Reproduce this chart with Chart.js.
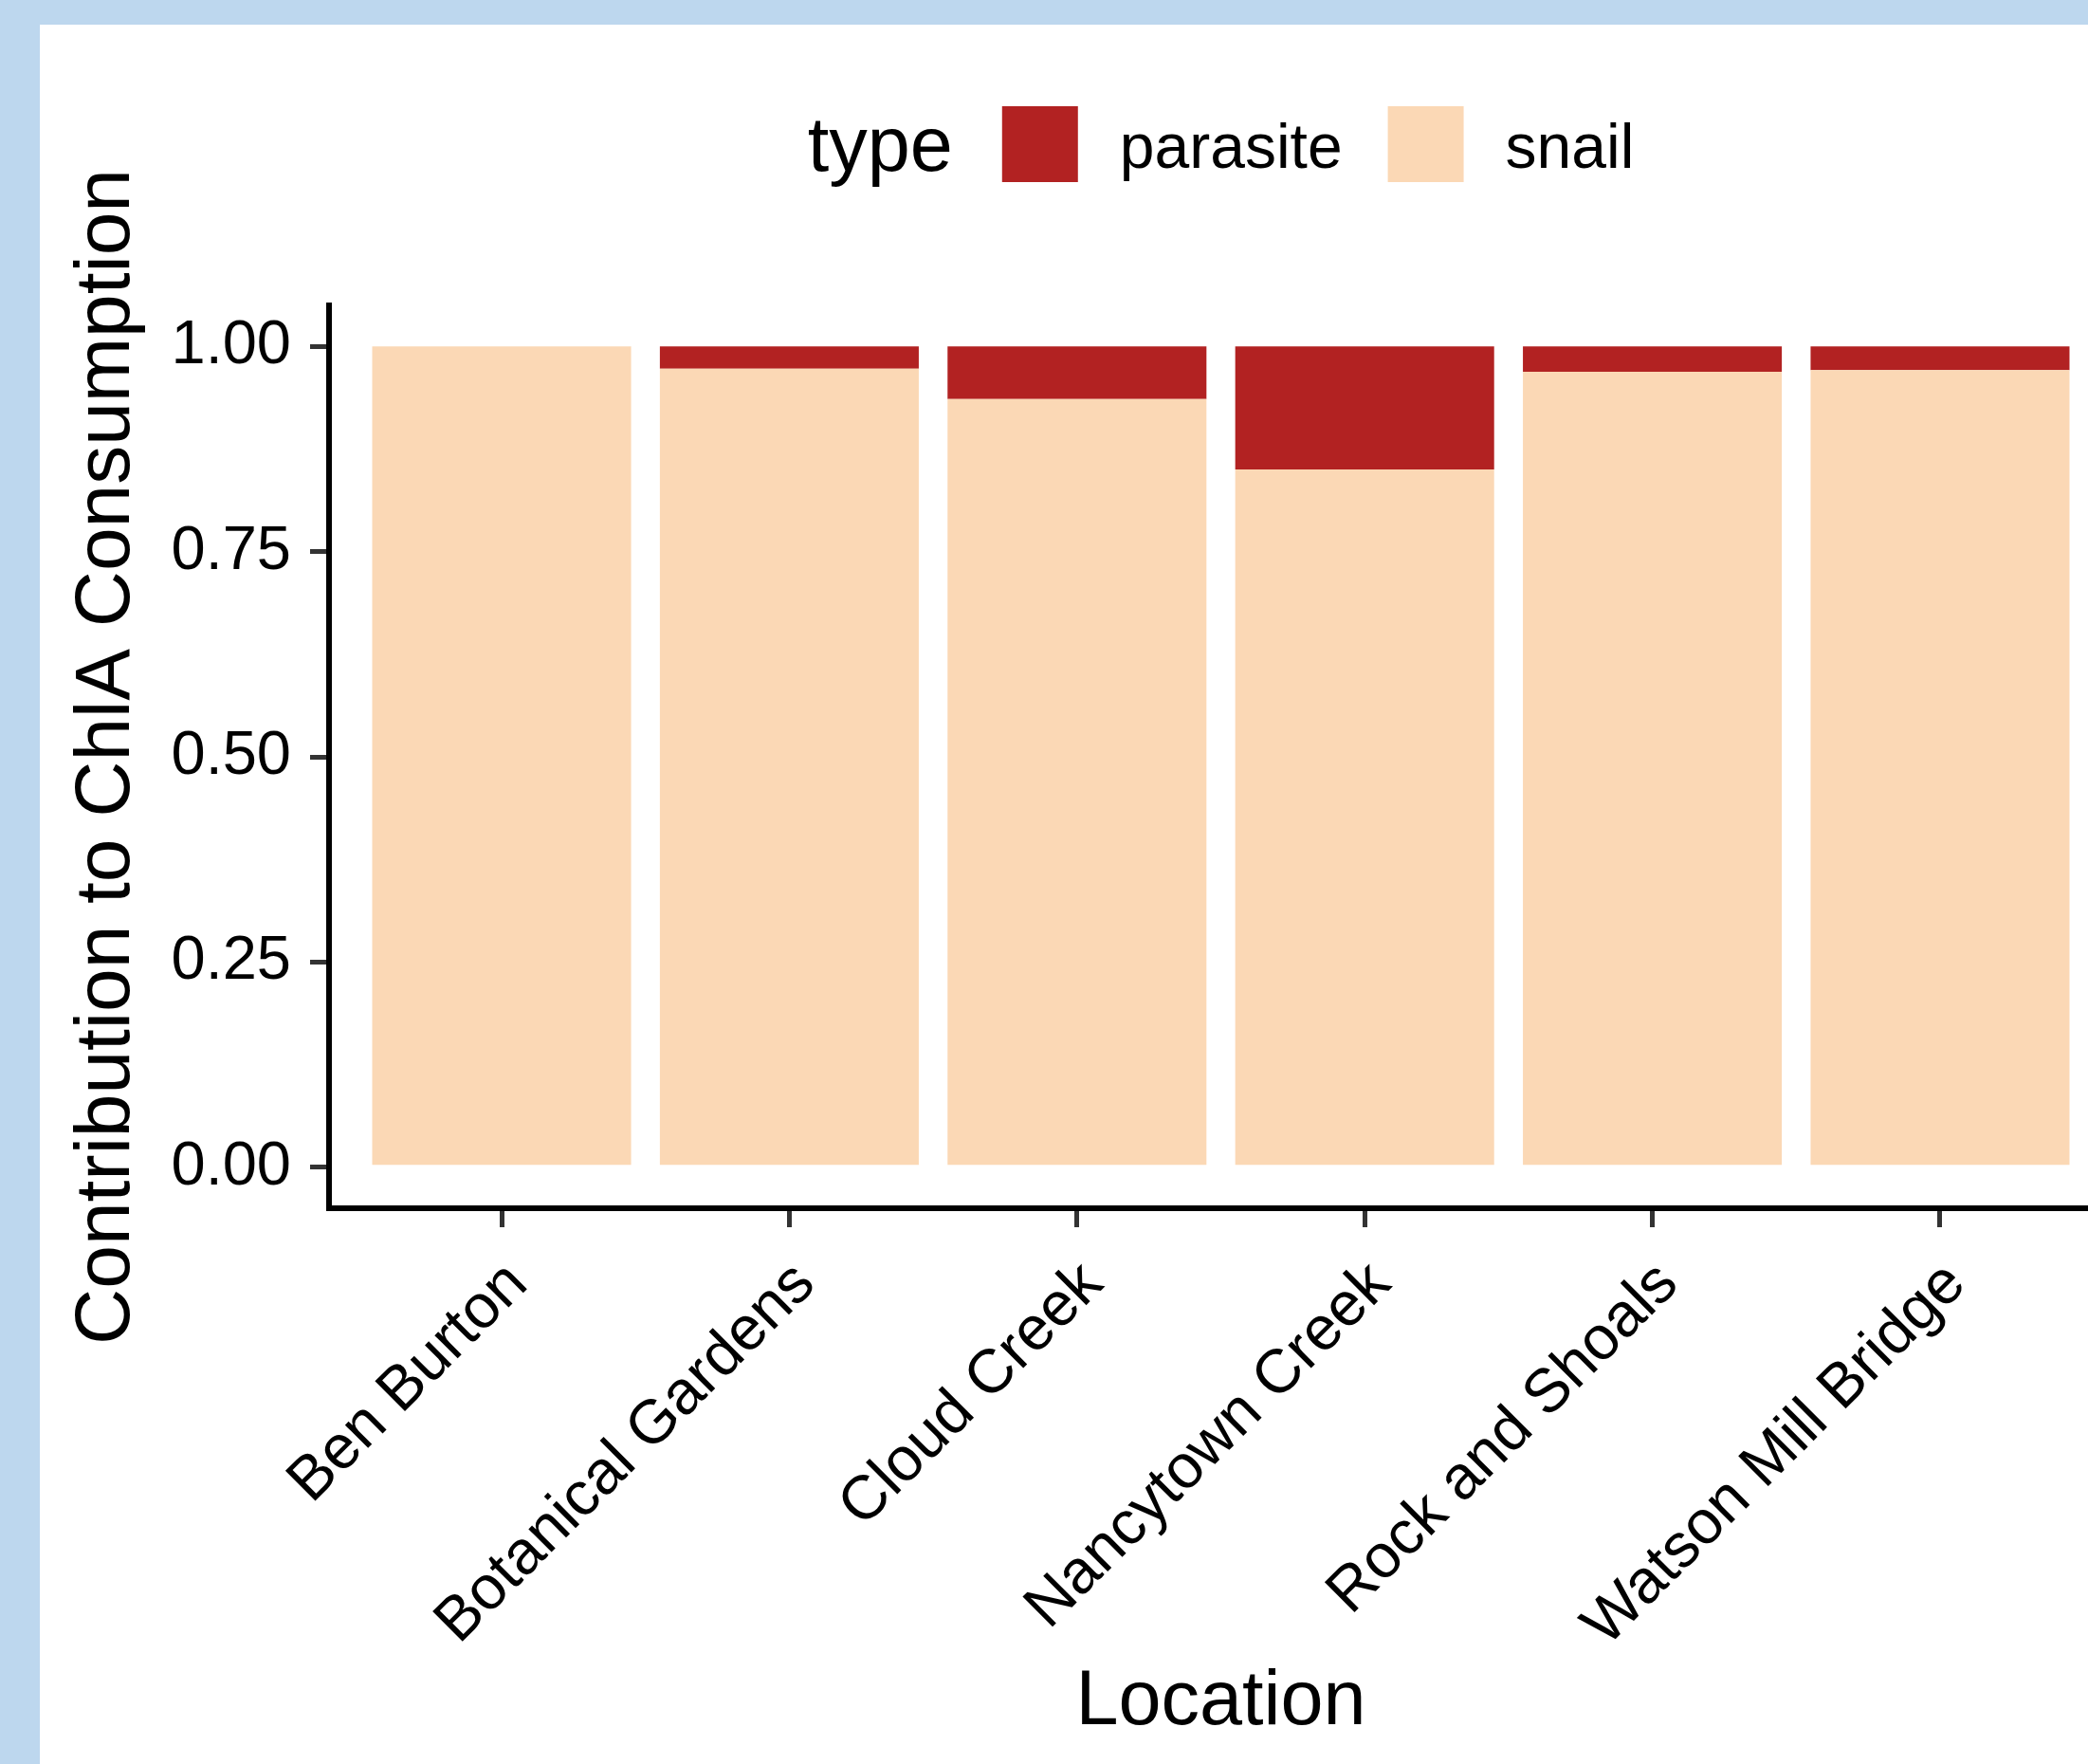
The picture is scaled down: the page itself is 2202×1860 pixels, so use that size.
<!DOCTYPE html>
<html>
<head>
<meta charset="utf-8">
<title>Contribution to ChlA Consumption</title>
<script src="https://cdn.jsdelivr.net/npm/chart.js@4.4.0/dist/chart.umd.min.js"></script>
<style>
    html, body { margin: 0; padding: 0; width: 2202px; height: 1860px; overflow: hidden; background: #BDD7EE; }
    #pannello { position: absolute; left: 42px; top: 26px; width: 2160px; height: 1834px; overflow: hidden; background: #ffffff; }
    canvas { display: block; }
</style>
</head>
<body>
<div id="pannello"><canvas id="graficoConsumo" width="2200" height="1834"></canvas></div>
<script>
// Dati
const locations = ['Ben Burton', 'Botanical Gardens', 'Cloud Creek', 'Nancytown Creek', 'Rock and Shoals', 'Watson Mill Bridge'];
const snailShare = [1.000, 0.973, 0.936, 0.850, 0.969, 0.971];
const parasiteShare = [0.000, 0.027, 0.064, 0.150, 0.031, 0.029];
const yTicks = [0, 0.25, 0.50, 0.75, 1.00];

const coloreParassita = '#B22222';
const coloreLumaca = '#FBD8B5';
const font = "'Liberation Sans', Arial, sans-serif";

Chart.defaults.font.family = font;
Chart.defaults.color = '#000';

// Legenda in stile ggplot: titolo "type" sulla stessa riga delle voci
const legendaTipo = {
    id: 'legendaTipo',
    afterDraw(chart) {
        const ctx = chart.ctx;
        const area = chart.chartArea;
        const voci = chart.data.datasets.slice().reverse();
        const lato = 80;
        const top = 86;

        ctx.save();
        ctx.textAlign = 'left';
        ctx.textBaseline = 'alphabetic';
        ctx.font = '81px ' + font;
        const larghezzaTitolo = ctx.measureText('type').width;
        ctx.font = '66px ' + font;
        const larghezze = voci.map(d => ctx.measureText(d.label).width);

        let totale = larghezzaTitolo + 52;
        larghezze.forEach(w => { totale += lato + 44 + w; });
        totale += 48 * (voci.length - 1);

        let x = (area.left + area.right) / 2 - totale / 2;
        ctx.fillStyle = '#000';
        ctx.font = '81px ' + font;
        ctx.fillText('type', x, top + 68);
        x += larghezzaTitolo + 52;

        ctx.font = '66px ' + font;
        voci.forEach((d, i) => {
            ctx.fillStyle = d.backgroundColor;
            ctx.fillRect(x, top, lato, lato);
            x += lato + 44;
            ctx.fillStyle = '#000';
            ctx.fillText(d.label, x, top + 65);
            x += larghezze[i] + 48;
        });
        ctx.restore();
    }
};

const ctx = document.getElementById('graficoConsumo').getContext('2d');
new Chart(ctx, {
    type: 'bar',
    data: {
        datasets: [{
            label: 'snail',
            data: snailShare.map((v, i) => ({ x: i + 1, y: v })),
            backgroundColor: coloreLumaca,
            borderWidth: 0,
            barPercentage: 0.9,
            categoryPercentage: 1
        }, {
            label: 'parasite',
            data: parasiteShare.map((v, i) => ({ x: i + 1, y: v })),
            backgroundColor: coloreParassita,
            borderWidth: 0,
            barPercentage: 0.9,
            categoryPercentage: 1
        }]
    },
    options: {
        responsive: false,
        animation: false,
        layout: { padding: { top: 296, right: 14, bottom: 0, left: 0 } },
        plugins: {
            legend: { display: false },
            tooltip: { enabled: false }
        },
        scales: {
            x: {
                type: 'linear',
                min: 0.4,
                max: 6.6,
                offset: false,
                stacked: true,
                afterBuildTicks: (axis) => { axis.ticks = locations.map((l, i) => ({ value: i + 1 })); },
                afterFit: (axis) => { axis.height = 586; },
                ticks: {
                    callback: (v) => locations[v - 1],
                    minRotation: 45,
                    maxRotation: 45,
                    autoSkip: false,
                    padding: 22,
                    labelOffset: 17,
                    font: { size: 65 },
                    color: '#000'
                },
                grid: { offset: false, drawOnChartArea: false, drawTicks: true, tickLength: 20, color: '#333', lineWidth: 5 },
                border: { display: true, color: '#000', width: 6 },
                title: {
                    display: true,
                    text: 'Location',
                    font: { size: 81 },
                    color: '#000',
                    padding: { top: 0, bottom: 16 }
                }
            },
            y: {
                min: -0.05,
                max: 1.05,
                stacked: true,
                afterBuildTicks: (axis) => { axis.ticks = yTicks.map(v => ({ value: v })); },
                afterFit: (axis) => { axis.width = 305; },
                ticks: {
                    callback: (v) => v.toFixed(2),
                    padding: 20,
                    font: { size: 65 },
                    color: '#000'
                },
                grid: { drawOnChartArea: false, drawTicks: true, tickLength: 20, color: '#333', lineWidth: 5 },
                border: { display: true, color: '#000', width: 6 },
                title: {
                    display: true,
                    text: 'Contribution to ChlA Consumption',
                    font: { size: 82 },
                    color: '#000',
                    padding: { top: 22, bottom: 0 }
                }
            }
        }
    },
    plugins: [legendaTipo]
});
</script>
</body>
</html>
